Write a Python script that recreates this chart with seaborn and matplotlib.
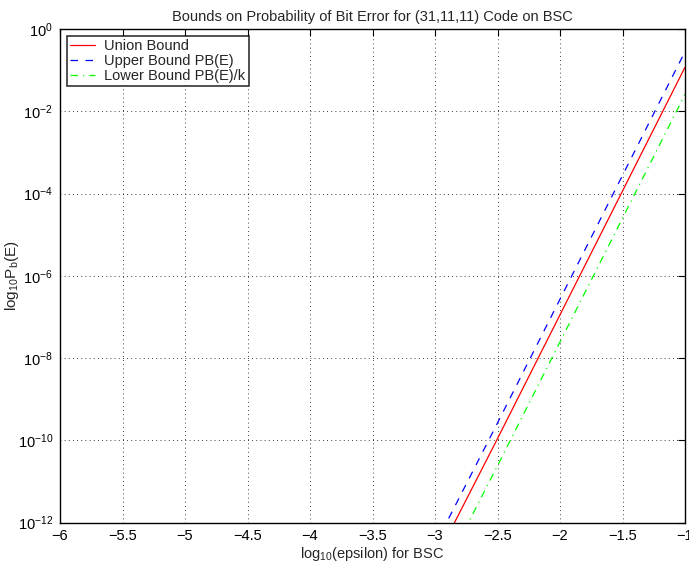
import numpy as np
import pandas as pd
import matplotlib
matplotlib.use("Agg")
import matplotlib.pyplot as plt
import matplotlib.ticker as mticker
import seaborn as sns

# log10(epsilon) points
log_eps = [-3.0, -2.5, -2.0, -1.5, -1.0]
# log10 of each bound at those points
union_bound = [-12.93, -9.96, -6.95, -3.94, -0.93]
upper_bound = [-12.55, -9.58, -6.57, -3.56, -0.55]
lower_bound = [-13.59, -10.62, -7.61, -4.60, -1.59]

x_ticks = [-6, -5.5, -5, -4.5, -4, -3.5, -3, -2.5, -2, -1.5, -1]
y_ticks = [1e-12, 1e-10, 1e-8, 1e-6, 1e-4, 1e-2, 1e0]

sns.set_theme(style="white")
plt.rcParams['font.family'] = ['Liberation Sans', 'DejaVu Sans']
plt.rcParams['mathtext.fontset'] = 'custom'
plt.rcParams['mathtext.rm'] = 'Liberation Sans'
plt.rcParams['mathtext.it'] = 'Liberation Sans:italic'
plt.rcParams['axes.unicode_minus'] = True

FS = 10.5

df = pd.DataFrame({
    "x": log_eps,
    "union": np.power(10.0, union_bound),
    "upper": np.power(10.0, upper_bound),
    "lower": np.power(10.0, lower_bound),
})

fig = plt.figure(figsize=(6.89, 5.63), dpi=100)
ax = fig.add_axes([60 / 689, 1 - 522.5 / 563, 625 / 689, 493.5 / 563])

sns.lineplot(data=df, x="x", y="union", ax=ax, color="red", lw=0.9, label="Union Bound")
sns.lineplot(data=df, x="x", y="upper", ax=ax, color="blue", lw=0.9,
             linestyle=(0, (6, 6)), label="Upper Bound PB(E)")
sns.lineplot(data=df, x="x", y="lower", ax=ax, color="#00ff00", lw=0.9,
             linestyle=(0, (6, 4, 1, 4)), label="Lower Bound PB(E)/k")

ax.set_yscale("log")
ax.set_xlim(-6, -1)
ax.set_ylim(1e-12, 1e0)
ax.set_xticks(x_ticks)
ax.xaxis.set_major_formatter(mticker.FuncFormatter(lambda v, p: f"{v:g}".replace("-", "\u2212")))
ax.yaxis.set_major_locator(mticker.FixedLocator(y_ticks))
ax.yaxis.set_minor_locator(mticker.NullLocator())
ax.yaxis.set_major_formatter(mticker.FuncFormatter(lambda v, p: r"$10^{%d}$" % round(np.log10(v))))

ax.tick_params(direction="in", length=5, width=0.8, top=True, right=True,
               labelsize=FS, colors="black", pad=5)
for s in ax.spines.values():
    s.set_color("black")
    s.set_linewidth(1.0)

ax.grid(True, color="black", linestyle=(0, (1, 4)), linewidth=0.6)

ax.set_title("Bounds on Probability of Bit Error for (31,11,11) Code on BSC", fontsize=FS, pad=6)
ax.set_xlabel(r"log$_{10}$(epsilon) for BSC", fontsize=FS, labelpad=1)
ax.set_ylabel(r"log$_{10}$P$_{\mathrm{b}}$(E)", fontsize=11)
ax.yaxis.set_label_coords(-0.063, 0.5)

leg = ax.legend(loc="upper left", fontsize=FS, frameon=True, fancybox=False,
                borderaxespad=0.45, handlelength=1.7, handletextpad=0.6,
                borderpad=0.25, labelspacing=0.05)
leg.get_frame().set_edgecolor("black")
leg.get_frame().set_linewidth(1.2)

fig.savefig("out.png", dpi=100)
